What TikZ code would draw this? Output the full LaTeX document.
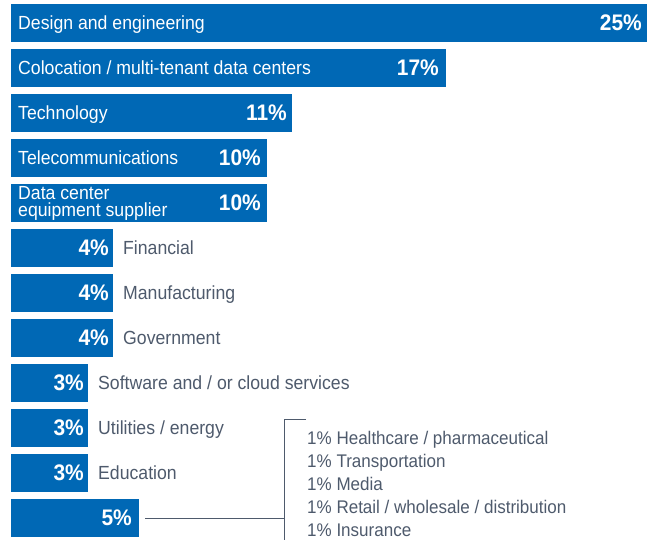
\documentclass[tikz,border=0pt]{standalone}
\usepackage{fontspec}
\setmainfont[FakeStretch=0.93]{Liberation Sans}
\definecolor{barblue}{RGB}{0,104,181}
\definecolor{slate}{RGB}{78,90,108}
\begin{document}
\begin{tikzpicture}[x=1pt,y=-1pt,
  bar/.style={fill=barblue, draw=none, anchor=north west, minimum height=38pt, inner sep=0, outer sep=0},
  wlab/.style={anchor=base west, inner sep=0, text=white, font=\fontsize{19}{19}\selectfont},
  pct/.style={anchor=base east, inner sep=0, text=white, font=\fontsize{22.5}{22}\selectfont\bfseries},
  glab/.style={anchor=base west, inner sep=0, text=slate, font=\fontsize{19}{19}\selectfont},
  lst/.style={anchor=base west, inner sep=0, text=slate, font=\fontsize{18.3}{19}\selectfont},
  conn/.style={draw=slate, line width=1pt}]
\useasboundingbox (0,0) rectangle (647,539);
% bars
\node[bar, minimum width=636pt] (b1) at (11,4) {};
\node[bar, minimum width=435pt] (b2) at (11,49) {};
\node[bar, minimum width=281pt] (b3) at (11,94) {};
\node[bar, minimum width=256pt] (b4) at (11,139) {};
\node[bar, minimum width=256pt] (b5) at (11,184) {};
\node[bar, minimum width=102pt] (b6) at (11,229) {};
\node[bar, minimum width=102pt] (b7) at (11,274) {};
\node[bar, minimum width=102pt] (b8) at (11,319) {};
\node[bar, minimum width=77pt] (b9) at (11,364) {};
\node[bar, minimum width=77pt] (b10) at (11,409) {};
\node[bar, minimum width=77pt] (b11) at (11,454) {};
\node[bar, minimum width=128pt] (b12) at (11,499) {};
% inside labels
\node[wlab] (l1) at (18,29.5) {Design and engineering};
\node[wlab] (l2) at (18,74.5) {Colocation / multi-tenant data centers};
\node[wlab] (l3) at (18,119.5) {Technology};
\node[wlab] (l4) at (18,164.5) {Telecommunications};
\node[wlab, anchor=west, align=left, font=\fontsize{19}{17}\selectfont] (l5) at (18,203.6) {Data center\\equipment supplier};
% percentages
\node[pct] (p1) at (642,30.5) {25\%};
\node[pct] (p2) at (439,75.5) {17\%};
\node[pct] (p3) at (287,120.5) {11\%};
\node[pct] (p4) at (261,165.5) {10\%};
\node[pct] (p5) at (261,210.5) {10\%};
\node[pct] (p6) at (109,255.5) {4\%};
\node[pct] (p7) at (109,300.5) {4\%};
\node[pct] (p8) at (109,345.5) {4\%};
\node[pct] (p9) at (84,390.5) {3\%};
\node[pct] (p10) at (84,435.5) {3\%};
\node[pct] (p11) at (84,480.5) {3\%};
\node[pct] (p12) at (132,525.5) {5\%};
% outside labels
\node[glab] (l6) at (123,254.5) {Financial};
\node[glab] (l7) at (123,299.5) {Manufacturing};
\node[glab] (l8) at (123,344.5) {Government};
\node[glab] (l9) at (98,389.5) {Software and / or cloud services};
\node[glab] (l10) at (98,434.5) {Utilities / energy};
\node[glab] (l11) at (98,479.5) {Education};
% breakdown list
\node[lst] (s1) at (307,444) {1\% Healthcare / pharmaceutical};
\node[lst] (s2) at (307,467.2) {1\% Transportation};
\node[lst] (s3) at (307,490.4) {1\% Media};
\node[lst] (s4) at (307,513.6) {1\% Retail / wholesale / distribution};
\node[lst] (s5) at (307,536.8) {1\% Insurance};
% bracket
\coordinate (hs) at ([xshift=6pt]b12.east);
\coordinate (bt) at (284,419);
\coordinate (btick) at (306,419);
\coordinate (bb) at (284,540);
\draw[conn] (hs) -- (hs -| bt);
\draw[conn] (btick) -- (bt) -- (bb);
\end{tikzpicture}
\end{document}
